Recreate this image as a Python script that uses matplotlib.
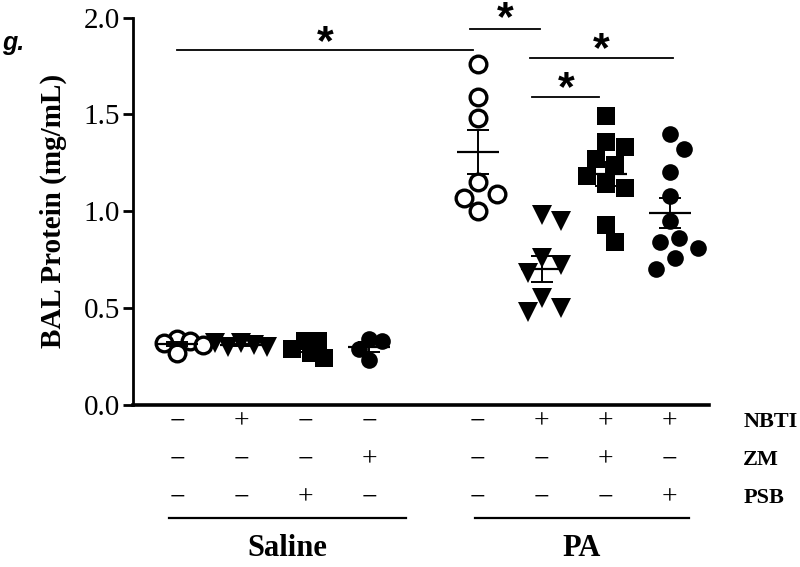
import numpy as np
import matplotlib
matplotlib.use("Agg")
import matplotlib.pyplot as plt

# group positions (Saline 4 groups, gap, PA 4 groups)
group_x = [1, 2, 3, 4, 5.7, 6.7, 7.7, 8.7]
group_names = ["Saline", "PA"]

# BAL protein values (mg/mL)
sal_ctrl = [0.34, 0.33, 0.32, 0.31, 0.27]
sal_nbti = [0.32, 0.31, 0.30, 0.30, 0.32]
sal_psb = [0.33, 0.33, 0.29, 0.27, 0.24]
sal_zm = [0.34, 0.33, 0.29, 0.23]
pa_ctrl = [1.76, 1.59, 1.48, 1.15, 1.09, 1.07, 1.00]
pa_nbti = [0.98, 0.95, 0.76, 0.72, 0.68, 0.55, 0.50, 0.48]
pa_nbti_zm = [1.49, 1.36, 1.33, 1.27, 1.24, 1.18, 1.14, 1.12, 0.93, 0.84]
pa_nbti_psb = [1.40, 1.32, 1.20, 1.08, 0.95, 0.86, 0.84, 0.81, 0.76, 0.70]
groups = [sal_ctrl, sal_nbti, sal_psb, sal_zm, pa_ctrl, pa_nbti, pa_nbti_zm, pa_nbti_psb]

# treatment table
row_names = ["NBTI", "ZM", "PSB"]
nbti = [0, 1, 0, 0, 0, 1, 1, 1]
zm = [0, 0, 0, 1, 0, 0, 1, 0]
psb = [0, 0, 1, 0, 0, 0, 0, 1]

# significance brackets: (x1, x2, line y, star y)
brackets = [(1.0, 5.63, 1.835, 1.87),
            (5.58, 6.67, 1.94, 1.99),
            (6.52, 8.75, 1.79, 1.83),
            (6.55, 7.6, 1.59, 1.63)]

styles = [
    dict(marker="o", mfc="white", mec="black", ms=12, mew=2.4),
    dict(marker="v", mfc="black", mec="black", ms=15, mew=0),
    dict(marker="s", mfc="black", mec="black", ms=13, mew=0),
    dict(marker="o", mfc="black", mec="black", ms=12, mew=0),
]
styles = styles + [styles[0], styles[1], styles[2], styles[3]]
spread = [13, 13, 13, 13, 19, 19, 19, 19]

serif = "Liberation Serif"

fig = plt.figure(figsize=(8, 5.67), dpi=100)
ax = fig.add_axes([0.166, 0.286, 0.72, 0.683])
ax.set_xlim(0.31, 9.31)
ax.set_ylim(0, 2.0)

bb = ax.get_window_extent()
px_x = bb.width / 9.0
px_y = bb.height / 2.0


def swarm(vals, d=19.0):
    # simple beeswarm: spread points sideways so they do not sit on each other
    placed = []
    offs = []
    for v in vals:
        yp = v * px_y
        best = 0.0
        for k in range(0, 60):
            cands = [0.0] if k == 0 else [k * d / 4, -k * d / 4]
            ok = None
            for c in cands:
                if all((c - ox) ** 2 + (yp - oy) ** 2 >= d ** 2 for ox, oy in placed):
                    ok = c
                    break
            if ok is not None:
                best = ok
                break
        placed.append((best, yp))
        offs.append(best / px_x)
    return np.array(offs)


for x, vals, st, d in zip(group_x, groups, styles, spread):
    vals = np.array(vals)
    xs = x + swarm(vals, d)
    ax.plot(xs, vals, linestyle="none", zorder=3, **st)
    m = vals.mean()
    sem = vals.std(ddof=1) / np.sqrt(len(vals))
    ax.hlines(m, x - 0.33, x + 0.33, color="black", lw=1.6, zorder=4)
    ax.errorbar(x, m, yerr=sem, fmt="none", ecolor="black", elinewidth=1.4,
                capsize=8, capthick=1.4, zorder=4)

for x1, x2, yl, ys in brackets:
    ax.plot([x1, x2], [yl, yl], color="black", lw=1.3, clip_on=False)
    ax.text((x1 + x2) / 2, ys, "*", ha="center", va="center", fontsize=31,
            fontweight="bold", family="Liberation Sans", clip_on=False)

for s in ["top", "right"]:
    ax.spines[s].set_visible(False)
ax.spines["left"].set_linewidth(2.0)
ax.spines["bottom"].set_linewidth(2.6)
ax.set_xticks([])
ax.set_yticks([0.0, 0.5, 1.0, 1.5, 2.0])
ax.set_yticklabels(["0.0", "0.5", "1.0", "1.5", "2.0"])
ax.tick_params(axis="y", length=7, width=2, pad=2, labelsize=21)
for lab in ax.get_yticklabels():
    lab.set_family(serif)
ax.set_ylabel("BAL Protein (mg/mL)", family=serif, fontweight="bold",
              fontsize=21, labelpad=12)

# treatment table under the axis
tr = ax.get_xaxis_transform()
row_y = [-0.044, -0.142, -0.240]
for row, flags, yy in zip(row_names, [nbti, zm, psb], row_y):
    for x, f in zip(group_x, flags):
        ax.text(x, yy, "+" if f else "\u2212", transform=tr, ha="center",
                va="center", fontsize=20, family=serif, clip_on=False)
    ax.text(9.85, yy, row, transform=tr, ha="left", va="center", fontsize=16,
            fontweight="bold", family=serif, clip_on=False)

for (x1, x2), name in zip([(0.875, 4.58), (5.66, 9.0)], group_names):
    ax.plot([x1, x2], [-0.292, -0.292], transform=tr, color="black", lw=1.6,
            clip_on=False)
    ax.text((x1 + x2) / 2, -0.370, name, transform=tr, ha="center", va="center",
            fontsize=22, fontweight="bold", family=serif, clip_on=False)

fig.text(0.002, 0.925, "g.", fontsize=18, fontweight="bold", style="italic",
         family="Liberation Sans", ha="left", va="center")

fig.savefig("out.png", dpi=100)
